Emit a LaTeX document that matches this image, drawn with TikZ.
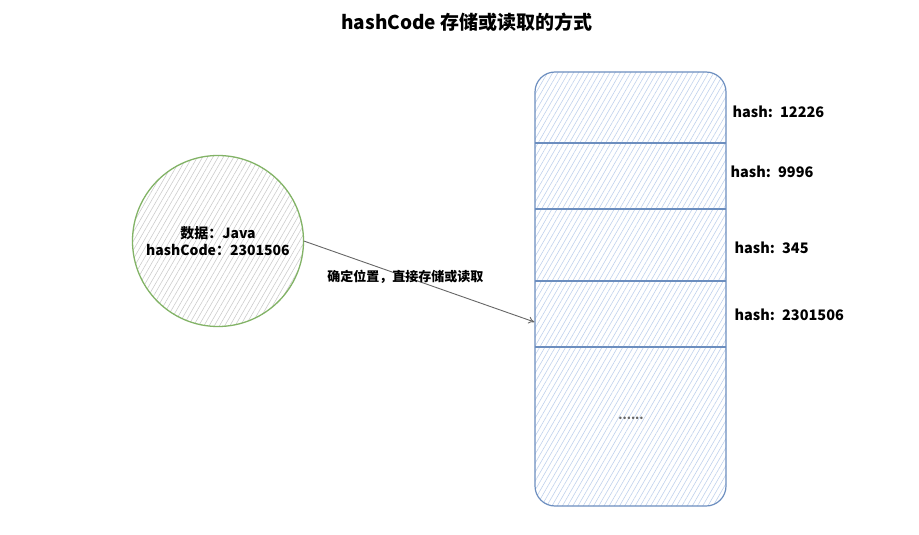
\documentclass[tikz,border=0pt]{standalone}
\usepackage{fontspec}
\setmainfont{Noto Sans CJK SC}
\usetikzlibrary{arrows.meta,patterns.meta}
\definecolor{drawgreen}{HTML}{82B366}
\definecolor{drawblue}{HTML}{6C8EBF}
\definecolor{hatchblue}{HTML}{BFD1EC}
\begin{document}
\begin{tikzpicture}[x=1pt,y=-1pt,
  hatch/.style={pattern={Lines[angle=60,distance=4.5pt,line width=0.6pt]},pattern color=#1},
  datanode/.style={circle,draw=drawgreen,line width=1.3pt,minimum size=171pt,hatch=gray!40,align=center,font=\fontsize{14}{17}\selectfont\bfseries},
  bucket/.style={draw=drawblue,line width=1.2pt,rounded corners=20pt,minimum width=191pt,minimum height=434pt,hatch=hatchblue},
  hashlabel/.style={anchor=west,font=\fontsize{14.5}{16}\selectfont\bfseries},
  divider/.style={drawblue,line width=1.1pt}]
\useasboundingbox (0,0) rectangle (919,535);
\node[font=\fontsize{19}{22}\selectfont\bfseries] (title) at (467,22) {hashCode 存储或读取的方式};
\node[datanode] (data) at (218,241) {数据：Java\\hashCode：2301506};
\node[bucket] (table) at (630.5,289) {};
\foreach \y in {143,209,281,347} \draw[divider] (535,\y) -- (726,\y);
\node[hashlabel] (h1) at (729,112) {hash:\hspace{0.5em}12226};
\node[hashlabel] (h2) at (727,172) {hash:\hspace{0.5em}9996};
\node[hashlabel] (h3) at (731,248) {hash:\hspace{0.5em}345};
\node[hashlabel] (h4) at (731,315) {hash:\hspace{0.5em}2301506};
\node[font=\bfseries\large,gray!80!black] (more) at (631,418) {......};
\coordinate (slot) at (table.west |- 0,322);
\draw[-{To[length=6pt,width=7pt]},gray!80!black,line width=0.9pt] (data.east) -- (slot)
  node[pos=0.44,black,font=\fontsize{13}{15}\selectfont\bfseries] (how) {确定位置，直接存储或读取};
\end{tikzpicture}
\end{document}
